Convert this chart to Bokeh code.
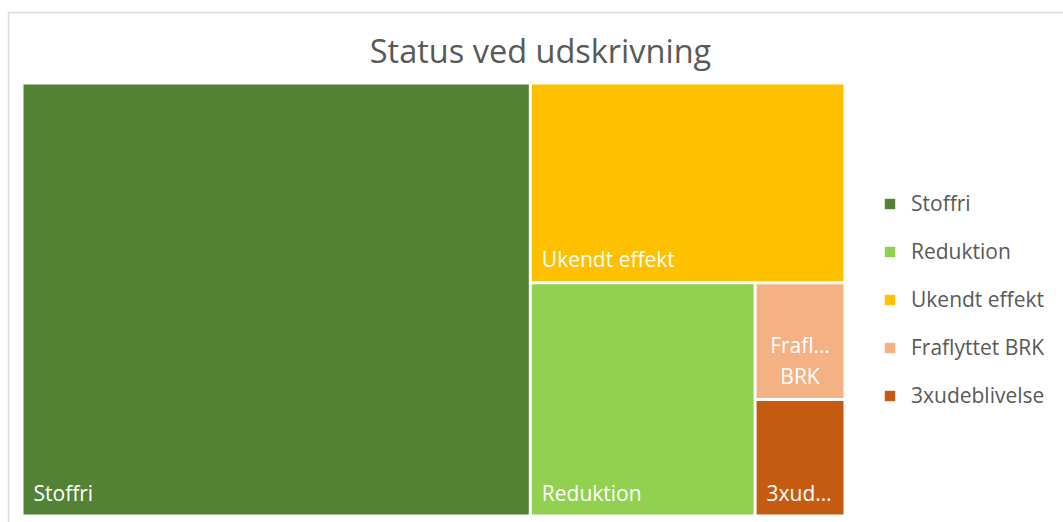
from bokeh.plotting import figure
from bokeh.models import Range1d, Legend, LegendItem, ColumnDataSource
from bokeh.core.properties import value
from bokeh.embed import file_html
from bokeh.resources import INLINE

# ---------------- data ----------------
chart_title = "Status ved udskrivning"
categories = ["Stoffri", "Reduktion", "Ukendt effekt", "Fraflyttet BRK", "3xudeblivelse"]
counts = [42, 10, 12, 2, 2]
colors = ["#548235", "#92D050", "#FFC000", "#F4B183", "#C55A11"]
tile_labels = ["Stoffri", "Reduktion", "Ukendt effekt", "Frafl…\nBRK", "3xud…"]

# ---------------- layout constants ----------------
W, H = 1063, 522
FONT = "Open Sans"
TEXT_GREY = "#595959"
MAP_X, MAP_Y, MAP_W, MAP_H = 21.5, 82.5, 823, 433
GAP = 1.5


def squarify(vals, x, y, w, h):
    """Squarified treemap; vals are areas sorted descending. y grows downward."""
    rects = []
    vals = list(vals)

    def worst(row, short):
        s = sum(row)
        return max(max(s * s / (short * short * v), short * short * v / (s * s)) for v in row)

    while vals:
        short = min(w, h)
        row = [vals[0]]
        i = 1
        while i < len(vals) and worst(row + [vals[i]], short) <= worst(row, short):
            row.append(vals[i])
            i += 1
        s = sum(row)
        if w >= h:
            rw = s / h
            yy = y
            for v in row:
                rh = v / rw
                rects.append((x, yy, rw, rh))
                yy += rh
            x += rw
            w -= rw
        else:
            rh = s / w
            xx = x
            for v in row:
                cw = v / rh
                rects.append((xx, y, cw, rh))
                xx += cw
            y += rh
            h -= rh
        vals = vals[i:]
    return rects


order = sorted(range(len(counts)), key=lambda i: -counts[i])
total = float(sum(counts))
areas = [counts[i] / total * MAP_W * MAP_H for i in order]
rects_sorted = squarify(areas, MAP_X, MAP_Y, MAP_W, MAP_H)
rects = [None] * len(counts)
for k, i in enumerate(order):
    rects[i] = rects_sorted[k]

left = [r[0] + GAP for r in rects]
right = [r[0] + r[2] - GAP for r in rects]
top = [r[1] + GAP for r in rects]
bottom = [r[1] + r[3] - GAP for r in rects]

lx, ly, align = [], [], []
for i, r in enumerate(rects):
    if "\n" in tile_labels[i]:
        lx.append((left[i] + right[i]) / 2)
        align.append("center")
    else:
        lx.append(left[i] + 10)
        align.append("left")
    ly.append(bottom[i] - 8)

src = ColumnDataSource(dict(
    left=left, right=right, top=top, bottom=bottom, color=colors,
    cat=categories, label=tile_labels, lx=lx, ly=ly, align=align,
))

p = figure(width=W, height=H, output_backend="svg", toolbar_location=None,
           x_range=Range1d(0, W), y_range=Range1d(H, 0),
           min_border=0, outline_line_color=None, background_fill_color="white")
p.axis.visible = False
p.grid.visible = False

# chart border (light grey)
p.segment(x0=[8, 8], y0=[12, 12], x1=[W, 8], y1=[12, H], line_color="#d9d9d9", line_width=1.5)

r = p.quad(left="left", right="right", top="top", bottom="bottom", fill_color="color",
           line_color=None, source=src)

p.text(x="lx", y="ly", text="label", source=src, text_color="white",
       text_font=value(FONT), text_font_size="21px", text_align="align",
       text_baseline="bottom", text_line_height=1.1)

p.text(x=[540], y=[50], text=[chart_title], text_color=TEXT_GREY, text_font=value(FONT),
       text_font_size="32.5px", text_align="center", text_baseline="middle")

items = [LegendItem(label=categories[i], renderers=[r], index=i) for i in range(len(categories))]
legend = Legend(items=items, location=(883, 113), orientation="vertical",
                glyph_width=13, glyph_height=13, label_standoff=15,
                label_text_font=FONT, label_text_font_size="21px", label_text_color=TEXT_GREY,
                label_height=20, spacing=20, padding=0, margin=0,
                border_line_color=None, background_fill_alpha=0)
p.add_layout(legend)

open("out.html", "w").write(file_html(p, INLINE))
